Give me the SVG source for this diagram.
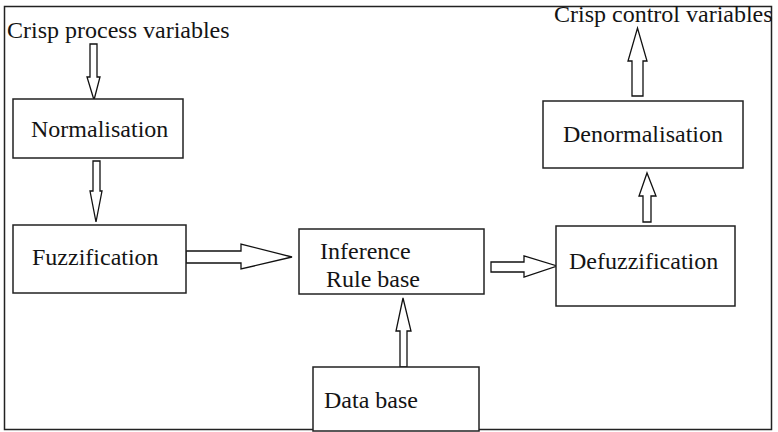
<svg xmlns="http://www.w3.org/2000/svg" width="778" height="432" viewBox="0 0 778 432">
<style>
.box{fill:#fff;stroke:#222;stroke-width:1.5}
.arr{fill:#fff;stroke:#111;stroke-width:1.3;stroke-linejoin:miter}
text{font-family:"Liberation Serif","Times New Roman",serif;font-size:24px;fill:#141414}
</style>
<rect x="0" y="0" width="778" height="432" fill="#fff"/>
<rect x="4.5" y="6.5" width="767" height="423" fill="none" stroke="#222" stroke-width="1.5"/>
<g id="labels">
<text x="7" y="38">Crisp process variables</text>
<text x="554" y="22">Crisp control variables</text>
</g>
<g id="connectors">
<polygon class="arr" points="90,44 97,44 97,77 100,77 94,100 87,77 90,77"/>
<polygon class="arr" points="93,161 100,161 100,191 102,191 96,222 90,191 93,191"/>
<polygon class="arr" points="186,251 241,251 241,244 292,257 241,269 241,263 186,263"/>
<polygon class="arr" points="491,262 524,262 524,256 557,266 524,277 524,272 491,272"/>
<polygon class="arr" points="400,367 407,367 407,331 411,331 403,298 396,331 400,331"/>
<polygon class="arr" points="643,222 651,222 651,196 656,196 647,173 639,196 643,196"/>
<polygon class="arr" points="632,96 643,96 643,61 647,61 637.5,28 628,61 632,61"/>
</g>
<g id="normalisation">
<rect class="box" x="13" y="99" width="170" height="59"/>
<text x="31" y="137">Normalisation</text>
</g>
<g id="fuzzification">
<rect class="box" x="13" y="225" width="173" height="68"/>
<text x="32" y="265">Fuzzification</text>
</g>
<g id="inference">
<rect class="box" x="299" y="229" width="185" height="65"/>
<text x="320" y="259">Inference</text>
<text x="326" y="287">Rule base</text>
</g>
<g id="database">
<rect class="box" x="313" y="367" width="166" height="64"/>
<text x="324" y="408">Data base</text>
</g>
<g id="defuzzification">
<rect class="box" x="556" y="226" width="179" height="80"/>
<text x="569" y="269">Defuzzification</text>
</g>
<g id="denormalisation">
<rect class="box" x="543" y="101" width="200" height="67"/>
<text x="563" y="142">Denormalisation</text>
</g>
</svg>
